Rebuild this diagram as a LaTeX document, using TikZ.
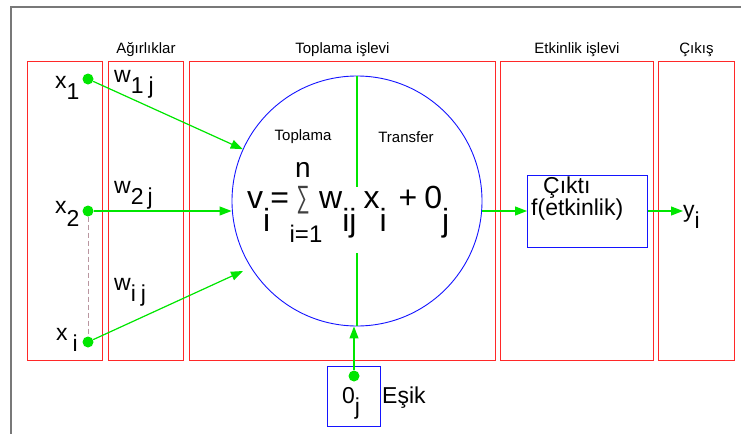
\documentclass[tikz,border=0pt]{standalone}
\usepackage{fontspec}
\setmainfont{Liberation Sans}
\usetikzlibrary{arrows.meta, positioning, calc}
\definecolor{boxred}{RGB}{255,40,40}
\definecolor{linegreen}{RGB}{0,230,0}
\definecolor{ringblue}{RGB}{20,20,255}
\definecolor{framegray}{RGB}{120,120,120}
\definecolor{dashpink}{RGB}{185,150,160}
\newcommand{\lowr}[2][0.5em]{\raisebox{-#1}{#2}}
\tikzset{
  panel/.style={rectangle, draw=boxred, line width=0.9pt, anchor=north west,
    minimum height=299pt, inner sep=0pt},
  hdr/.style={font=\fontsize{15}{18}\selectfont, inner sep=0pt},
  lbl/.style={font=\fontsize{23}{24}\selectfont, inner sep=0pt, anchor=base west},
  eqn/.style={font=\fontsize{32}{34}\selectfont, inner sep=0pt, anchor=base west},
  dot/.style={circle, fill=linegreen, minimum size=11pt, inner sep=0pt},
  garrow/.style={-{Triangle[length=12pt,width=9pt]}, draw=linegreen,
    fill=linegreen, line width=1.2pt},
  gline/.style={draw=linegreen, line width=1.2pt},
  bluebox/.style={rectangle, draw=ringblue, line width=0.9pt, inner sep=0pt}
}
\begin{document}
\begin{tikzpicture}[x=1pt, y=-1pt]
  \useasboundingbox (0,0) rectangle (741,434);
  % outer frame, only its top and left edges are in view
  \draw[framegray, line width=1.5pt] (741,7) -- (11,7) -- (11,434);
  % the five panels
  \node[panel, minimum width=75pt] (inpanel) at (27,61) {};
  \node[panel, minimum width=75pt] (wpanel) at (108,61) {};
  \node[panel, minimum width=306pt] (sumpanel) at (189,61) {};
  \node[panel, minimum width=153pt] (actpanel) at (500,61) {};
  \node[panel, minimum width=76pt] (outpanel) at (658,61) {};
  % headers
  \node[hdr, above=8pt of wpanel.north, anchor=base] (whdr) {Ağırlıklar};
  \node[hdr, above=8pt of sumpanel.north, anchor=base] (sumhdr) {Toplama işlevi};
  \node[hdr, above=8pt of actpanel.north, anchor=base] (acthdr) {Etkinlik işlevi};
  \node[hdr, above=8pt of outpanel.north, anchor=base] (outhdr) {Çıkış};
  % neuron
  \node[circle, draw=ringblue, line width=0.9pt, minimum size=250pt,
        inner sep=0pt] (neuron) at (357,201) {};
  \draw[gline] (neuron.north) -- ++(0,111);
  \draw[gline] ($(neuron.center)+(0,52)$) -- (neuron.south);
  \node[hdr] (toplama) at (303,137) {Toplama};
  \node[hdr] (transfer) at (406,137) {Transfer};
  % sum formula
  \node[eqn] (eqv) at (247,208) {v\lowr[0.72em]{i}=};
  \node[font=\fontsize{28}{30}\selectfont, inner sep=0pt, color=black!75]
       (sigma) at (303,200) {\scalebox{0.65}[1.1]{∑}};
  \node[font=\fontsize{28}{30}\selectfont, inner sep=0pt] (sigtop) at (303,170) {n};
  \node[font=\fontsize{24}{26}\selectfont, inner sep=0pt] (sigbot) at (306,234) {i=1};
  \node[eqn] (eqrest) at (319,208)
       {w\lowr[0.72em]{ij}\hspace{7pt}x\lowr[0.72em]{i}\hspace{12pt}+\hspace{7pt}0\lowr[0.72em]{j}};
  % inputs
  \node[dot] (x1dot) at (88,79) {};
  \node[dot] (x2dot) at (88,211) {};
  \node[dot] (xidot) at (88,342) {};
  \node[lbl] (x1lbl) at (55,88) {x\lowr{1}};
  \node[lbl] (x2lbl) at (55,213) {x\lowr[0.6em]{2}};
  \node[lbl] (xilbl) at (56,340) {x\hspace{5pt}\lowr{i}};
  \draw[dashpink, dash pattern=on 5pt off 3pt, line width=1pt] (x2dot) -- (xidot);
  % weights
  \node[lbl] (w1lbl) at (114,82) {w\lowr{1\hspace{5pt}j}};
  \node[lbl] (w2lbl) at (114,193) {w\lowr{2\hspace{4pt}j}};
  \node[lbl] (wilbl) at (114,290) {w\lowr{i\hspace{5pt}j}};
  \coordinate (wiend) at (243,271);
  \draw[garrow] (x1dot) -- (neuron);
  \draw[garrow] (x2dot) -- (x2dot -| neuron.west);
  \draw[garrow] (xidot) -- (wiend);
  % activation and output
  \node[bluebox, minimum width=120pt, minimum height=72pt, anchor=west]
       (actbox) at (527,211) {};
  \node[lbl] (cikti) at (543,193) {Çıktı};
  \node[lbl] (fetk) at (531,215) {f(etkinlik)};
  \draw[garrow] (neuron.east |- actbox.west) -- (actbox.west);
  \node[lbl] (ylbl) at (683,217) {y\lowr{i}};
  \draw[garrow] (actbox.east) -- (ylbl.west |- actbox.east);
  % threshold
  \node[bluebox, minimum width=53pt, minimum height=60pt, anchor=north west]
       (thbox) at (327,366) {};
  \node[dot] (thdot) at (354,376) {};
  \node[lbl] (thlbl) at (342,403) {0\lowr{j}};
  \node[lbl] (esik) at (382,403) {Eşik};
  \draw[garrow] (thdot) -- (thdot |- neuron.south);
\end{tikzpicture}
\end{document}
